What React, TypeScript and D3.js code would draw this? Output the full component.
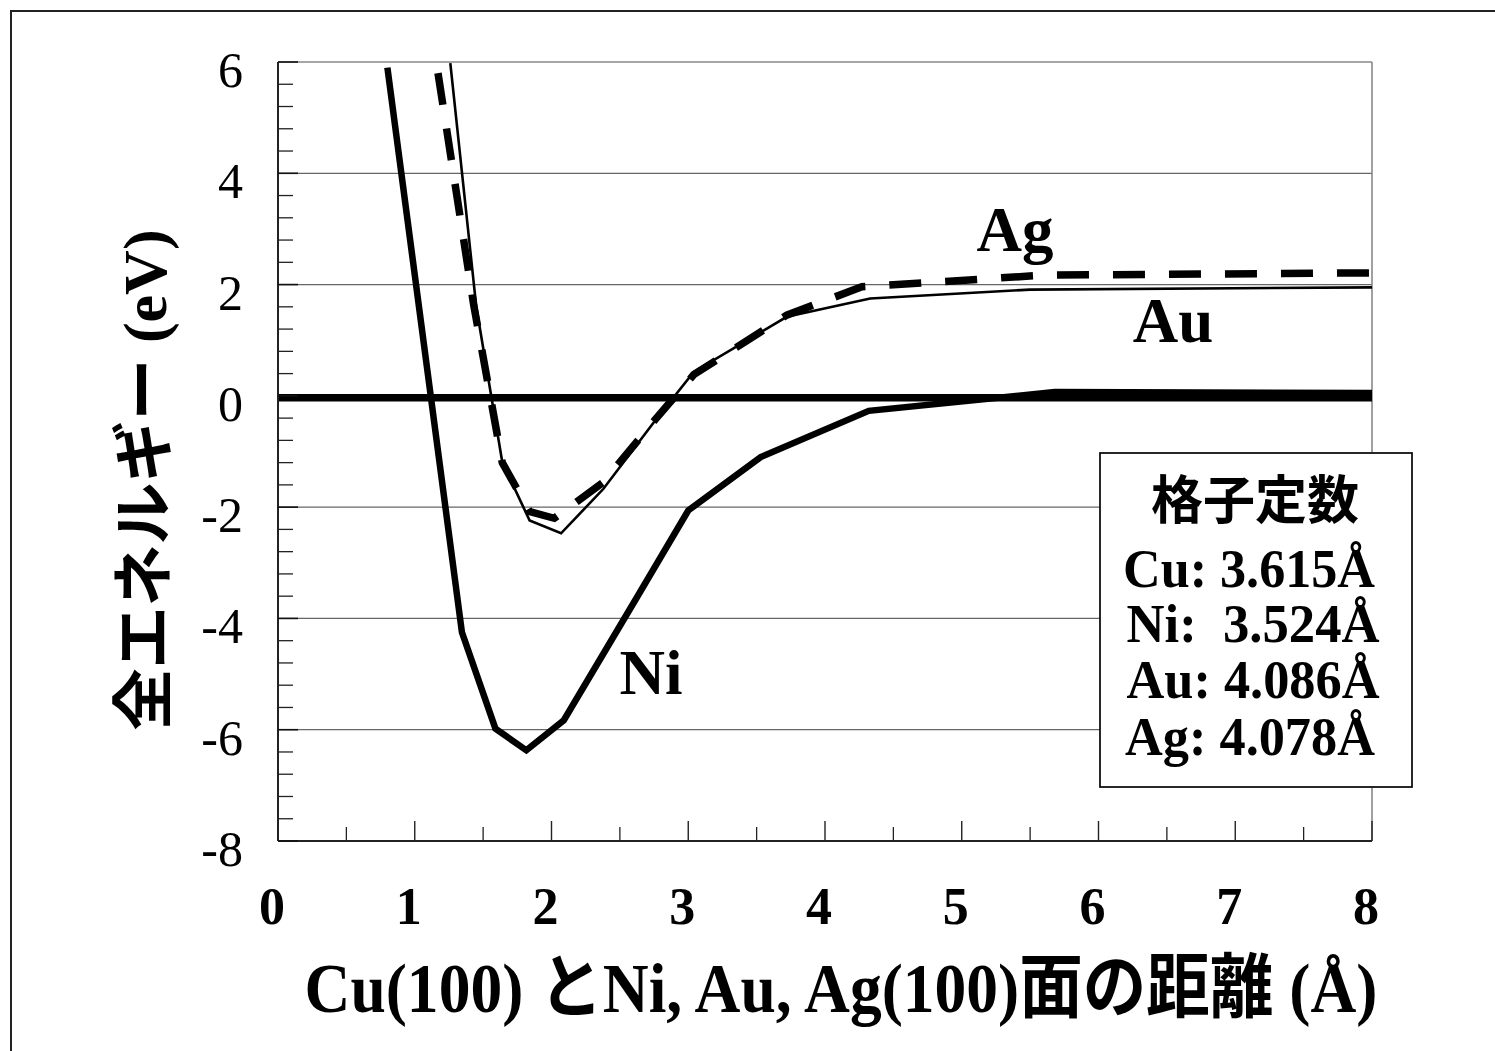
import * as d3 from 'd3';

// distance (Å) / total energy (eV)
const niX = [0.8, 1.345, 1.59, 1.816, 2.09, 2.625, 3.0, 3.53, 4.32, 5.68, 8];
const niY = [5.9, -4.25, -5.98, -6.37, -5.83, -3.62, -2.06, -1.1, -0.27, 0.07, 0.05];

const auX = [1.26, 1.45, 1.64, 1.84, 2.07, 2.38, 2.75, 3.04, 3.72, 4.33, 5.5, 8];
const auY = [5.98, 1.6, -1.19, -2.24, -2.47, -1.67, -0.47, 0.43, 1.42, 1.75, 1.91, 1.95];

const agX = [1.17, 1.43, 1.64, 1.84, 2.02, 2.38, 2.75, 3.04, 3.72, 4.27, 5.6, 8];
const agY = [5.8, 1.65, -1.2, -2.08, -2.2, -1.55, -0.45, 0.38, 1.45, 1.96, 2.17, 2.21];

const xTickLabels = ['0', '1', '2', '3', '4', '5', '6', '7', '8'];
const yTickLabels = ['-8', '-6', '-4', '-2', '0', '2', '4', '6'];
const latticeLines = ['Cu: 3.615Å', 'Ni:  3.524Å', 'Au: 4.086Å', 'Ag: 4.078Å'];

const W = 1495;
const H = 1051;
const left = 278;
const right = 1372;
const top = 62;
const bottom = 841;

const SERIF = '"Liberation Serif", "Times New Roman", "Noto Sans CJK JP", serif';

export default function App() {
  const x = d3.scaleLinear().domain([0, 8]).range([left, right]);
  const y = d3.scaleLinear().domain([-8, 6]).range([bottom, top]);

  const line = d3.line<[number, number]>()
    .x(d => x(d[0]))
    .y(d => y(d[1]));

  const zip = (xs: number[], ys: number[]) => xs.map((v, i) => [v, ys[i]] as [number, number]);

  const yMinor = d3.range(0, 36).map(i => -8 + i * 0.4).filter(v => Math.abs(v / 2 - Math.round(v / 2)) > 1e-6);
  const yMajor = yTickLabels.map(Number);
  const xMinor = d3.range(0, 8).map(i => i + 0.5);
  const xMajor = xTickLabels.map(Number);

  return (
    <svg width={W} height={H} style={{ position: 'absolute', left: 0, top: 0, background: '#fff' }}
      fontFamily={SERIF}>
      <defs>
        <clipPath id="plot-clip">
          <rect x={left} y={top} width={right - left} height={bottom - top} />
        </clipPath>
      </defs>

      {/* outer frame */}
      <rect x={11} y={11} width={W} height={H} fill="none" stroke="#222" strokeWidth={2} />

      {/* grid lines */}
      {yMajor.filter(v => v !== 0 && v !== -8 && v !== 6).map(v => (
        <line key={'g' + v} x1={left} x2={right} y1={y(v)} y2={y(v)} stroke="#666" strokeWidth={1.3} />
      ))}
      <line x1={left} x2={right} y1={top} y2={top} stroke="#888" strokeWidth={1.6} />
      <line x1={right} x2={right} y1={top} y2={bottom} stroke="#888" strokeWidth={1.6} />

      {/* zero line */}
      <line x1={left} x2={right} y1={y(0) + 2} y2={y(0) + 2} stroke="#000" strokeWidth={7.5} />

      <g clipPath="url(#plot-clip)" fill="none" stroke="#000">
        <path d={line(zip(niX, niY)) || ''} strokeWidth={6.5} strokeLinejoin="miter" />
        <path d={line(zip(auX, auY)) || ''} strokeWidth={2.6} />
        <path d={line(zip(agX, agY)) || ''} strokeWidth={7.5} strokeDasharray="32 24" />
      </g>

      {/* axes */}
      <line x1={left} x2={left} y1={top} y2={bottom} stroke="#222" strokeWidth={2} />
      <line x1={left} x2={right} y1={bottom} y2={bottom} stroke="#222" strokeWidth={2} />

      {yMinor.map(v => (
        <line key={'ym' + v} x1={left} x2={left + 15} y1={y(v)} y2={y(v)} stroke="#222" strokeWidth={1.3} />
      ))}
      {yMajor.map(v => (
        <line key={'yM' + v} x1={left} x2={left + 20} y1={y(v)} y2={y(v)} stroke="#111" strokeWidth={1.6} />
      ))}
      {xMinor.map(v => (
        <line key={'xm' + v} x1={x(v)} x2={x(v)} y1={bottom} y2={bottom - 14} stroke="#222" strokeWidth={1.3} />
      ))}
      {xMajor.map(v => (
        <line key={'xM' + v} x1={x(v)} x2={x(v)} y1={bottom} y2={bottom - 20} stroke="#222" strokeWidth={1.4} />
      ))}

      {/* tick labels */}
      {yTickLabels.map(t => (
        <text key={'yt' + t} x={243} y={y(Number(t)) + 25} textAnchor="end" fontSize={50}>{t}</text>
      ))}
      {xTickLabels.map(t => (
        <text key={'xt' + t} x={x(Number(t)) - 6} y={924} textAnchor="middle" fontSize={52}
          fontWeight="bold">{t}</text>
      ))}

      {/* axis titles */}
      <text transform="translate(145,480) rotate(-90)" textAnchor="middle" dominantBaseline="central"
        fontSize={62} fontWeight="bold">全エネルギー (eV)</text>
      <text x={841} y={1012} textAnchor="middle" fontSize={70} fontWeight="bold"
        textLength={1073} lengthAdjust="spacingAndGlyphs">Cu(100) とNi, Au, Ag(100)面の距離 (Å)</text>

      {/* series labels */}
      <text x={1015} y={251} textAnchor="middle" fontSize={63} fontWeight="bold">Ag</text>
      <text x={1173} y={342} textAnchor="middle" fontSize={63} fontWeight="bold">Au</text>
      <text x={651} y={694} textAnchor="middle" fontSize={63} fontWeight="bold">Ni</text>

      {/* lattice constant box */}
      <rect x={1100} y={453} width={312} height={334} fill="#fff" stroke="#111" strokeWidth={1.8} />
      <text x={1255} y={519} textAnchor="middle" fontSize={52} fontWeight="bold"
        fontFamily='"Noto Sans CJK JP", sans-serif'>格子定数</text>
      {latticeLines.map((t, i) => (
        <text key={t} x={[1249, 1253, 1253, 1250][i]} y={[587, 642, 698, 755][i]} textAnchor="middle"
          fontSize={55} fontWeight="bold" textLength={[252, 253, 253, 250][i]} lengthAdjust="spacingAndGlyphs"
          style={{ whiteSpace: 'pre' }}>{t}</text>
      ))}
    </svg>
  );
}
